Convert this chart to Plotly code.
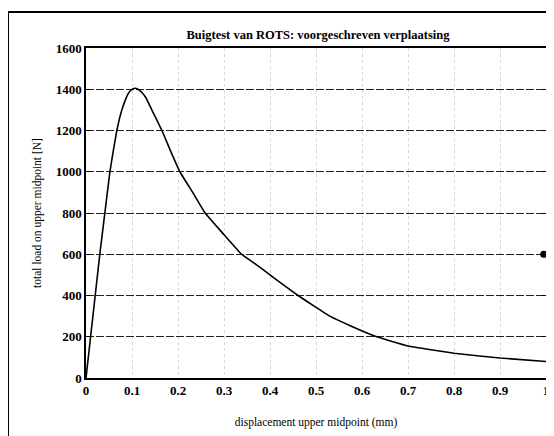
import plotly.graph_objects as go

# data
displacement = [0, 0.010, 0.020, 0.030, 0.041, 0.052, 0.060, 0.067, 0.073, 0.078,
                0.085, 0.092, 0.099, 0.106, 0.113, 0.120, 0.130, 0.143, 0.165,
                0.184, 0.204, 0.232, 0.259, 0.298, 0.338, 0.370, 0.400, 0.430,
                0.461, 0.530, 0.578, 0.632, 0.700, 0.800, 0.900, 1.000]
load = [0, 200, 400, 600, 800, 1000, 1110, 1200, 1260, 1300,
        1345, 1380, 1398, 1405, 1400, 1388, 1360, 1300, 1200,
        1100, 1000, 900, 800, 700, 600, 550, 500, 450,
        400, 300, 250, 200, 155, 120, 97, 80]
dot_x = [0.995]
dot_y = [600]

x_ticks = [0, 0.1, 0.2, 0.3, 0.4, 0.5, 0.6, 0.7, 0.8, 0.9, 1]
x_labels = ["0", "0.1", "0.2", "0.3", "0.4", "0.5", "0.6", "0.7", "0.8", "0.9", "1"]
y_ticks = [0, 200, 400, 600, 800, 1000, 1200, 1400, 1600]

title = "Buigtest van ROTS: voorgeschreven verplaatsing"
x_title = "displacement upper midpoint (mm)"
y_title = "total load on upper midpoint [N]"

FONT = "Liberation Serif"

fig = go.Figure()
fig.add_trace(go.Scatter(x=displacement, y=load, mode="lines",
                         line=dict(color="black", width=1.6, shape="spline", smoothing=0.3),
                         showlegend=False, hoverinfo="skip"))
fig.add_trace(go.Scatter(x=dot_x, y=dot_y, mode="markers",
                         marker=dict(color="black", size=7),
                         showlegend=False, cliponaxis=False, hoverinfo="skip"))

# the page body adds an 8px offset, so the figure is laid out 8px smaller
OFF = 8
W, H = 554 - OFF, 436 - OFF
L, R, T, B = 86 - OFF, 8, 48 - OFF, 58
pw, ph = W - L - R, H - T - B

def px_to_paper(px, py):
    # px, py: page pixel coordinates
    fx, fy = px - OFF, py - OFF
    return (fx - L) / pw, (H - B - fy) / ph

x0, y1 = px_to_paper(8, 12)
x1, y0 = px_to_paper(570, 450)
fig.add_shape(type="rect", xref="paper", yref="paper", x0=x0, y0=y0, x1=x1, y1=y1,
              line=dict(color="black", width=2), layer="above")

fig.update_layout(
    width=W, height=H,
    margin=dict(l=L, r=R, t=T, b=B),
    paper_bgcolor="white", plot_bgcolor="white",
    font=dict(family=FONT, color="black", size=12),
    title=dict(text="<b>" + title + "</b>", x=(318 - OFF) / W, xanchor="center",
               y=1 - (35 - OFF) / H, yanchor="middle",
               font=dict(family=FONT, size=12.5, color="black")),
)
fig.update_xaxes(
    range=[0, 1], tickvals=x_ticks, ticktext=["<b>" + t + "</b>" for t in x_labels],
    showline=True, linecolor="black", linewidth=1.5, mirror=True,
    showgrid=True, gridcolor="#d6d6d6", griddash="dot", gridwidth=1,
    ticks="", tickfont=dict(family=FONT, size=13),
    ticklabeloverflow="allow", automargin=False,
    zeroline=False,
    title=dict(text=x_title, font=dict(family=FONT, size=11.5), standoff=21),
)
fig.update_yaxes(
    range=[0, 1600], tickvals=y_ticks, ticktext=["<b>%d</b>" % v for v in y_ticks],
    showline=True, linecolor="black", linewidth=1.5, mirror="ticks",
    showgrid=True, gridcolor="#222222", griddash="8px,2px", gridwidth=1.2,
    ticks="inside", ticklen=4, tickcolor="black", tickwidth=1.2,
    tickfont=dict(family=FONT, size=13),
    ticklabeloverflow="allow", automargin=False,
    zeroline=False,
    title=dict(text=y_title, font=dict(family=FONT, size=11.5), standoff=12),
)

fig.write_html("out.html")
